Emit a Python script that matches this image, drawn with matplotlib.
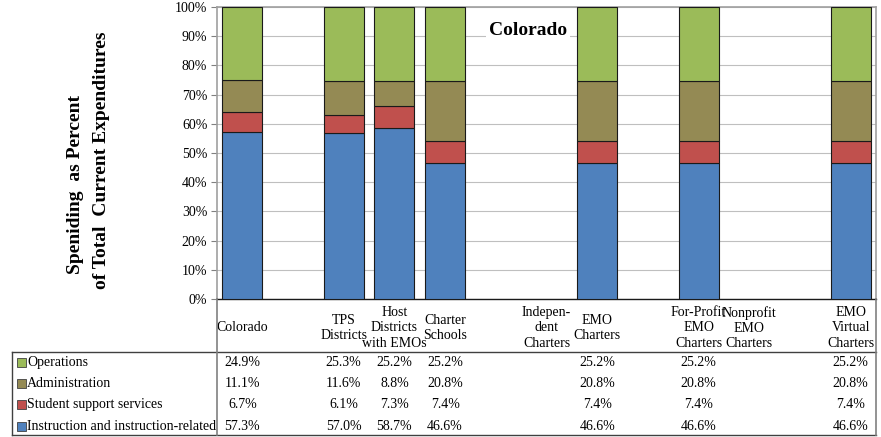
import numpy as np
import matplotlib.pyplot as plt
from matplotlib.patches import Rectangle
from matplotlib.lines import Line2D

plt.rcParams['font.family'] = ['Liberation Serif', 'DejaVu Serif']

# column labels (blank ones are spacer columns)
categories = ['Colorado', '', 'TPS\nDistricts', 'Host\nDistricts\nwith EMOs',
              'Charter\nSchools', '', 'Indepen-\ndent\nCharters', 'EMO\nCharters', '',
              'For-Profit\nEMO\nCharters', 'Nonprofit\nEMO\nCharters', '',
              'EMO\nVirtual\nCharters']
series_names = ['Instruction and instruction-related', 'Student support services',
                'Administration', 'Operations']
instruction = [57.3, None, 57.0, 58.7, 46.6, None, None, 46.6, None, 46.6, None, None, 46.6]
support = [6.7, None, 6.1, 7.3, 7.4, None, None, 7.4, None, 7.4, None, None, 7.4]
administration = [11.1, None, 11.6, 8.8, 20.8, None, None, 20.8, None, 20.8, None, None, 20.8]
operations = [24.9, None, 25.3, 25.2, 25.2, None, None, 25.2, None, 25.2, None, None, 25.2]
colors = ['#4F81BD', '#C0504D', '#948A54', '#9BBB59']
yticks = [0, 10, 20, 30, 40, 50, 60, 70, 80, 90, 100]

W, H = 881, 437
fig = plt.figure(figsize=(W / 100, H / 100), dpi=100)
ax = fig.add_axes([217 / W, 1 - 299 / H, (876 - 217) / W, (299 - 7) / H])

x = np.arange(len(categories))
series = [instruction, support, administration, operations]
bottom = np.zeros(len(categories))
for vals, col in zip(series, colors):
    v = np.array([np.nan if s is None else s for s in vals], dtype=float)
    ok = ~np.isnan(v)
    ax.bar(x[ok], v[ok] / 100, 0.79, bottom=bottom[ok], color=col,
           edgecolor='#1a1a1a', linewidth=0.8, zorder=3)
    bottom[ok] += v[ok] / 100

ax.set_xlim(-0.5, len(categories) - 0.5)
ax.set_ylim(0, 1)
ax.set_yticks([t / 100 for t in yticks])
ax.set_yticklabels([f'{t}%' for t in yticks], fontsize=10)
ax.set_xticks([])
ax.tick_params(axis='y', length=4, width=0.8, color='#808080', pad=3)
ax.yaxis.grid(True, color='#BFBFBF', linewidth=0.8, zorder=0)
ax.set_axisbelow(True)
for s in ['left', 'top', 'right']:
    ax.spines[s].set_color('#A0A0A0')
    ax.spines[s].set_linewidth(1.2)
ax.spines['bottom'].set_color('#1a1a1a')
ax.spines['bottom'].set_linewidth(1.0)

ax.text(0.472, 0.921, 'Colorado', transform=ax.transAxes, ha='center', va='center',
        fontsize=14, fontweight='bold', zorder=4,
        bbox=dict(facecolor='white', edgecolor='none', pad=2))

# two-line y title, each line placed on its own
fig.text(76 / W, 1 - 185 / H, 'Speniding  as Percent', rotation=90,
         ha='center', va='center', fontsize=14, fontweight='bold')
fig.text(102 / W, 1 - 160 / H, 'of Total  Current Expenditures', rotation=90,
         ha='center', va='center', fontsize=14, fontweight='bold')

# table below the plot
trans = ax.get_xaxis_transform()
for i, lab in enumerate(categories):
    ax.text(i, -0.099, lab, transform=trans, ha='center', va='center',
            fontsize=10, linespacing=1.22)

row_y = [-0.435, -0.363, -0.291, -0.219]
for vals, col, name, ry in zip(series, colors, series_names, row_y):
    for i, v in enumerate(vals):
        if v is not None:
            ax.text(i, ry, f'{v:.1f}%', transform=trans, ha='center', va='center',
                    fontsize=10)
    fy = 1 - (299 - ry * 292) / H
    fig.add_artist(Rectangle((17 / W, fy - 4.5 / H), 9 / W, 9 / H, facecolor=col,
                             edgecolor='#404040', linewidth=0.6,
                             transform=fig.transFigure))
    fig.text(27 / W, fy, name, ha='left', va='center', fontsize=10)

def fline(x0, y0, x1, y1, c='#404040', lw=1.0):
    fig.add_artist(Line2D([x0 / W, x1 / W], [1 - y0 / H, 1 - y1 / H], color=c,
                          linewidth=lw, transform=fig.transFigure))

fline(12, 352, 876, 352)
fline(12, 435, 876, 435)
fline(12, 352, 12, 435)
fline(217, 299, 217, 435, c='#808080', lw=1.2)
fline(876, 299, 876, 435, c='#808080', lw=1.2)

fig.savefig('out.png', dpi=100)
